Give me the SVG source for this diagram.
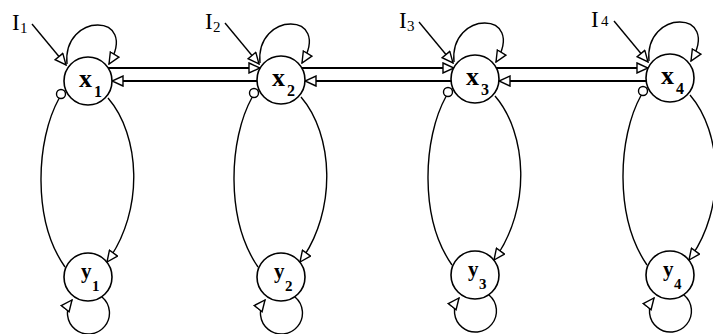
<svg xmlns="http://www.w3.org/2000/svg" width="713" height="334" viewBox="0 0 713 334">
<style>
.node{fill:#fff;stroke:#000;stroke-width:1.6}
.c{fill:none;stroke:#000;stroke-width:1.4}
.h{fill:none;stroke:#000;stroke-width:2.2}
.lx{font-family:"Liberation Serif",serif;font-weight:bold;font-size:26px;fill:#000}
.sx{font-family:"Liberation Serif",serif;font-weight:bold;font-size:16px;fill:#000}
.ly{font-family:"Liberation Serif",serif;font-weight:bold;font-size:21px;fill:#000}
.sy{font-family:"Liberation Serif",serif;font-weight:bold;font-size:15px;fill:#000}
.li{font-family:"Liberation Serif",serif;font-size:23px;fill:#000}
.si{font-family:"Liberation Serif",serif;font-size:15px;fill:#000}
</style>
<defs>
<marker id="arr" markerUnits="userSpaceOnUse" viewBox="-1 -1 13 12" markerWidth="13" markerHeight="12" refX="11" refY="5" orient="auto">
<path d="M0,0 L11,5 L0,10 z" fill="#fff" stroke="#000" stroke-width="1.4"/>
</marker>
</defs>
<g id="connectors">
<path class="c" d="M32,24 L66,65" marker-end="url(#arr)"/>
<path class="c" d="M225,23 L259,64" marker-end="url(#arr)"/>
<path class="c" d="M419,22 L453,63" marker-end="url(#arr)"/>
<path class="c" d="M614,21 L648,62" marker-end="url(#arr)"/>
<path class="c" d="M67,64 C62,12 140,12 109,64" marker-end="url(#arr)"/>
<path class="c" d="M260,63 C255,11 333,11 302,63" marker-end="url(#arr)"/>
<path class="c" d="M454,62 C449,10 527,10 496,62" marker-end="url(#arr)"/>
<path class="c" d="M649,61 C644,9 722,9 691,61" marker-end="url(#arr)"/>
<path class="c" d="M59,98.5 C36,140 32,220 65,267"/>
<path class="c" d="M252,97.5 C229,139 225,219 258,267"/>
<path class="c" d="M446,96.5 C423,138 419,218 452,265"/>
<path class="c" d="M641,95.5 C618,137 614,217 647,265"/>
<circle cx="61" cy="94" r="4.5" fill="#fff" stroke="#000" stroke-width="1.4"/>
<circle cx="254" cy="93" r="4.5" fill="#fff" stroke="#000" stroke-width="1.4"/>
<circle cx="448" cy="92" r="4.5" fill="#fff" stroke="#000" stroke-width="1.4"/>
<circle cx="643" cy="91" r="4.5" fill="#fff" stroke="#000" stroke-width="1.4"/>
<path class="c" d="M108,98 C140,135 145,210 107,262" marker-end="url(#arr)"/>
<path class="c" d="M301,97 C333,134 338,210 300,262" marker-end="url(#arr)"/>
<path class="c" d="M495,96 C527,133 532,208 494,260" marker-end="url(#arr)"/>
<path class="c" d="M690,95 C722,132 727,208 689,260" marker-end="url(#arr)"/>
<path class="c" d="M102,297 A21,21 0 1 1 72,300" marker-end="url(#arr)"/>
<path class="c" d="M295,297 A21,21 0 1 1 265,300" marker-end="url(#arr)"/>
<path class="c" d="M489,295 A21,21 0 1 1 459,298" marker-end="url(#arr)"/>
<path class="c" d="M684,295 A21,21 0 1 1 654,298" marker-end="url(#arr)"/>
<path class="h" d="M108,68 L260,68" marker-end="url(#arr)"/>
<path class="h" d="M302,68 L454,68" marker-end="url(#arr)"/>
<path class="h" d="M496,68 L648,68" marker-end="url(#arr)"/>
<path class="h" d="M257,81 L112,81" marker-end="url(#arr)"/>
<path class="h" d="M451,81 L305,81" marker-end="url(#arr)"/>
<path class="h" d="M646,81 L499,81" marker-end="url(#arr)"/>
</g>
<g id="I1"><text class="li" x="12" y="30">I</text><text class="si" x="20" y="33">1</text></g>
<g id="I2"><text class="li" x="205" y="29">I</text><text class="si" x="213" y="32">2</text></g>
<g id="I3"><text class="li" x="399" y="28">I</text><text class="si" x="407" y="31">3</text></g>
<g id="I4"><text class="li" x="591" y="27">I</text><text class="si" x="601" y="26">4</text></g>
<g id="x1"><circle class="node" cx="88" cy="81" r="24"/><text class="lx" x="79" y="87">x</text><text class="sx" x="94" y="97">1</text></g>
<g id="x2"><circle class="node" cx="281" cy="80" r="24"/><text class="lx" x="272" y="86">x</text><text class="sx" x="287" y="96">2</text></g>
<g id="x3"><circle class="node" cx="475" cy="79" r="24"/><text class="lx" x="466" y="85">x</text><text class="sx" x="481" y="95">3</text></g>
<g id="x4"><circle class="node" cx="670" cy="78" r="24"/><text class="lx" x="661" y="84">x</text><text class="sx" x="676" y="94">4</text></g>
<g id="y1"><circle class="node" cx="88" cy="277" r="24"/><text class="ly" x="81" y="278">y</text><text class="sy" x="92" y="291">1</text></g>
<g id="y2"><circle class="node" cx="281" cy="277" r="24"/><text class="ly" x="274" y="278">y</text><text class="sy" x="285" y="291">2</text></g>
<g id="y3"><circle class="node" cx="475" cy="275" r="24"/><text class="ly" x="468" y="276">y</text><text class="sy" x="479" y="289">3</text></g>
<g id="y4"><circle class="node" cx="670" cy="275" r="24"/><text class="ly" x="663" y="276">y</text><text class="sy" x="674" y="289">4</text></g>
</svg>
